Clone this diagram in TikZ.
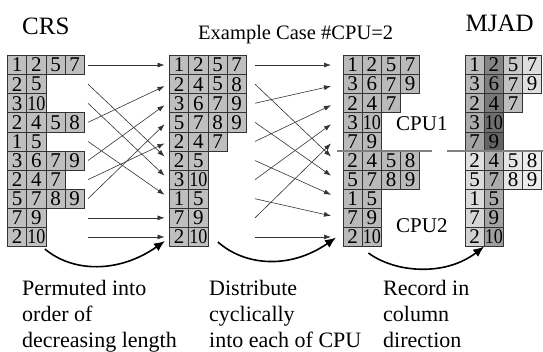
\documentclass[tikz,border=0pt]{standalone}
\usepackage{fontspec}
\usepackage{graphicx}
\setmainfont{Liberation Serif}
\usetikzlibrary{arrows.meta}
% two-digit entries are squeezed to fit one cell
\newcommand\cellnum[1]{\ifnum#1>9 \scalebox{0.86}[1]{#1}\else #1\fi}
\begin{document}
\begin{tikzpicture}[x=1pt,y=-1pt,
  cell/.style={draw=black!80, line width=0.7pt, minimum width=19.2pt,
    minimum height=19.1pt, inner sep=0pt, outer sep=0pt,
    font=\fontsize{21}{21}\selectfont, fill=#1},
  cell/.default={white!75!black},
  flow/.style={draw=black!80, line width=0.6pt, -{Latex[length=7pt,width=5pt]}},
  sweep/.style={draw=black, line width=1.6pt, -{Latex[length=11pt,width=9pt]}},
  divider/.style={draw=black!50, line width=1.8pt},
  title/.style={font=\fontsize{25}{25}\selectfont, anchor=base west, inner sep=0pt},
  subtitle/.style={font=\fontsize{20.5}{20.5}\selectfont, anchor=base west, inner sep=0pt},
  cpulabel/.style={font=\fontsize{21}{21}\selectfont, anchor=base west, inner sep=0pt},
  caption/.style={font=\fontsize{22}{22}\selectfont, anchor=base west, inner sep=0pt}]
\useasboundingbox (0,0) rectangle (543,352);

% CRS storage, one row per matrix row
\foreach \r/\vals in {1/{1,2,5,7},2/{2,5},3/{3,10},4/{2,4,5,8},5/{1,5},
    6/{3,6,7,9},7/{2,4,7},8/{5,7,8,9},9/{7,9},10/{2,10}}
  \foreach \v [count=\c] in \vals
    \node[cell] (crs-\r-\c) at ({7.5+(\c-0.5)*19.2},{55.5+(\r-0.5)*19.1}) {\cellnum{\v}};

% rows permuted by decreasing length
\foreach \r/\vals in {1/{1,2,5,7},2/{2,4,5,8},3/{3,6,7,9},4/{5,7,8,9},5/{2,4,7},
    6/{2,5},7/{3,10},8/{1,5},9/{7,9},10/{2,10}}
  \foreach \v [count=\c] in \vals
    \node[cell] (prm-\r-\c) at ({169.5+(\c-0.5)*19.2},{55.5+(\r-0.5)*19.1}) {\cellnum{\v}};

% rows distributed to the two CPUs
\foreach \r/\vals in {1/{1,2,5,7},2/{3,6,7,9},3/{2,4,7},4/{3,10},5/{7,9},
    6/{2,4,5,8},7/{5,7,8,9},8/{1,5},9/{7,9},10/{2,10}}
  \foreach \v [count=\c] in \vals
    \node[cell=white!73!black] (cpu-\r-\c) at ({343+(\c-0.5)*19.2},{55.5+(\r-0.5)*19.1}) {\cellnum{\v}};

% MJAD storage, shaded by column
\foreach \r/\vals in {1/{1/74,2/52,5/78,7/87},2/{3/72,6/50,7/76,9/88},3/{2/70,4/47,7/74},
    4/{3/67,10/43},5/{7/64,9/39},6/{2/88,4/69,5/90,8/93},7/{5/86,7/67,8/90,9/93},
    8/{1/86,5/66},9/{7/84,9/64},10/{2/82,10/62}}
  \foreach \v/\s [count=\c] in \vals
    \node[cell=white!\s!black] (mjad-\r-\c) at ({465+(\c-0.5)*19.2},{55.5+(\r-0.5)*19.1}) {\cellnum{\v}};

% arrow ends beside each row
\foreach \r in {1,...,10} {
  \coordinate (crs-out-\r) at (88,{55.5+(\r-0.5)*19.1});
  \coordinate (prm-in-\r)  at (164.5,{55.5+(\r-0.5)*19.1});
  \coordinate (prm-out-\r) at (255,{55.5+(\r-0.5)*19.1});
  \coordinate (cpu-in-\r)  at (331,{55.5+(\r-0.5)*19.1});
}

% permutation
\foreach \a/\b/\s in {1/1/0,2/6/4,3/7/4,4/2/-2,5/8/4,6/3/-2,7/5/-2,8/4/-2,9/9/0,10/10/0}
  \draw[flow] (crs-out-\a) -- ([yshift=\s]prm-in-\b);

% cyclic distribution
\foreach \a/\b/\s in {1/1/0,2/6/4,3/2/-2,4/7/4,5/3/-2,6/8/4,7/4/-2,8/9/2,9/5/-2,10/10/0}
  \draw[flow] (prm-out-\a) -- ([yshift=\s]cpu-in-\b);

% step arrows under the matrices
\draw[sweep] ([shift={(-1,2.5)}]crs-10-2.south east)
  .. controls +(27,23) and +(-47,33) .. ([shift={(0.5,4)}]prm-in-10);
\draw[sweep] ([shift={(10,-4.5)}]prm-10-2.south east)
  .. controls +(27,24) and +(-46,32) .. ([shift={(5,0.6)}]cpu-in-10);
\draw[sweep] ([shift={(-13,6.5)}]cpu-10-2.south east)
  .. controls +(27,20) and +(-39,30) .. (mjad-10-1.south east);

% CPU boundaries
\draw[divider] ([xshift=-6]cpu-6-1.north west) -- ++(95,0);
\draw[divider] ([xshift=-18]mjad-6-1.north west) -- ++(96,0);

% titles and labels
\node[title] (crs-title) at (22,35) {CRS};
\node[title] (mjad-title) at (465.5,31.7) {MJAD};
\node[subtitle] (case) at (198,40) {Example Case \#CPU=2};
\node[cpulabel] (cpu1) at (396,131) {CPU1};
\node[cpulabel] (cpu2) at (396,232.5) {CPU2};

\node[caption] (cap-a1) at (22,296) {Permuted into};
\node[caption] (cap-a2) at (22,321.5) {order of};
\node[caption] (cap-a3) at (22,347) {decreasing length};
\node[caption] (cap-b1) at (209,296) {Distribute};
\node[caption] (cap-b2) at (209,321.5) {cyclically};
\node[caption] (cap-b3) at (209,347) {into each of CPU};
\node[caption] (cap-c1) at (383,296) {Record in};
\node[caption] (cap-c2) at (383,321.5) {column};
\node[caption] (cap-c3) at (383,347) {direction};
\end{tikzpicture}
\end{document}
